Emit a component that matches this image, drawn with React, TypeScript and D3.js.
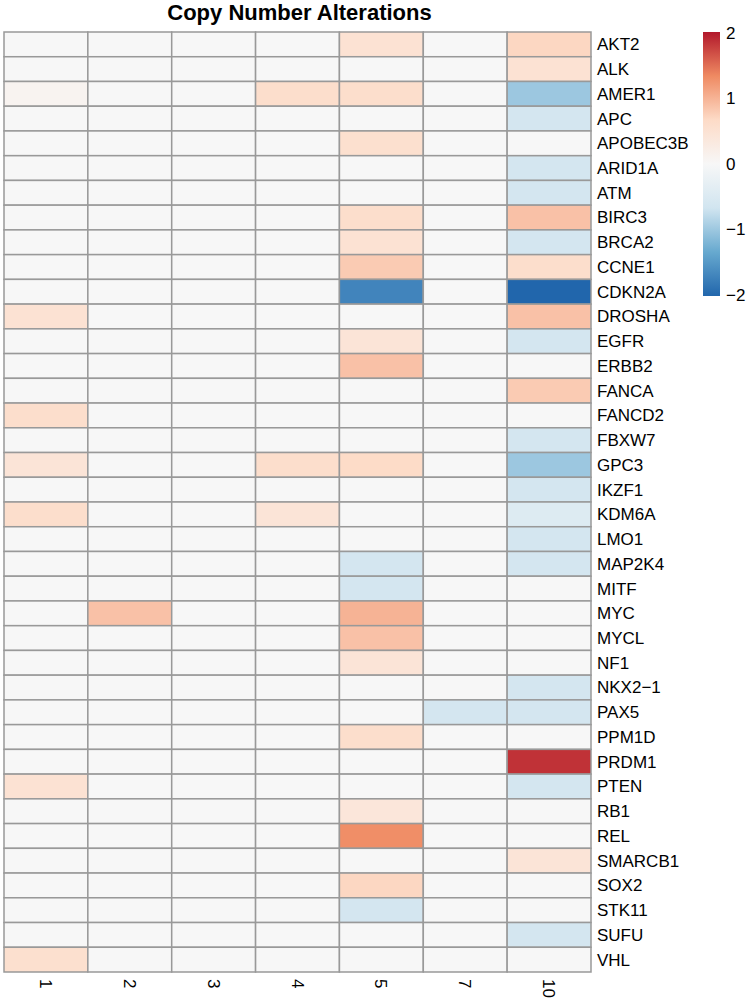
import * as d3 from "d3";
import React from "react";

// samples (columns) and genes (rows)
const samples = ["1", "2", "3", "4", "5", "7", "10"];
const genes = [
  "AKT2", "ALK", "AMER1", "APC", "APOBEC3B", "ARID1A", "ATM", "BIRC3", "BRCA2", "CCNE1",
  "CDKN2A", "DROSHA", "EGFR", "ERBB2", "FANCA", "FANCD2", "FBXW7", "GPC3", "IKZF1", "KDM6A",
  "LMO1", "MAP2K4", "MITF", "MYC", "MYCL", "NF1", "NKX2\u22121", "PAX5", "PPM1D", "PRDM1",
  "PTEN", "RB1", "REL", "SMARCB1", "SOX2", "STK11", "SUFU", "VHL",
];

// copy number values per sample, in gene order
const s1 = [0, 0, 0.1, 0, 0, 0, 0, 0, 0, 0, 0, 0.5, 0, 0, 0, 0.6, 0, 0.45, 0, 0.6, 0, 0, 0, 0, 0, 0, 0, 0, 0, 0, 0.5, 0, 0, 0, 0, 0, 0, 0.55];
const s2 = [0, 0, 0, 0, 0, 0, 0, 0, 0, 0, 0, 0, 0, 0, 0, 0, 0, 0, 0, 0, 0, 0, 0, 0.88, 0, 0, 0, 0, 0, 0, 0, 0, 0, 0, 0, 0, 0, 0];
const s3 = [0, 0, 0, 0, 0, 0, 0, 0, 0, 0, 0, 0, 0, 0, 0, 0, 0, 0, 0, 0, 0, 0, 0, 0, 0, 0, 0, 0, 0, 0, 0, 0, 0, 0, 0, 0, 0, 0];
const s4 = [0, 0, 0.6, 0, 0, 0, 0, 0, 0, 0, 0, 0, 0, 0, 0, 0, 0, 0.6, 0, 0.45, 0, 0, 0, 0, 0, 0, 0, 0, 0, 0, 0, 0, 0, 0, 0, 0, 0, 0];
const s5 = [0.5, 0, 0.6, 0, 0.55, 0, 0, 0.6, 0.5, 0.8, -1.7, 0, 0.45, 0.88, 0, 0, 0, 0.65, 0, 0, 0, -0.62, -0.62, 1.0, 0.88, 0.45, 0, 0, 0.6, 0, 0, 0.4, 1.3, 0, 0.7, -0.62, 0, 0];
const s7 = [0, 0, 0, 0, 0, 0, 0, 0, 0, 0, 0, 0, 0, 0, 0, 0, 0, 0, 0, 0, 0, 0, 0, 0, 0, 0, 0, -0.62, 0, 0, 0, 0, 0, 0, 0, 0, 0, 0];
const s10 = [0.7, 0.5, -1.0, -0.62, 0, -0.62, -0.62, 0.88, -0.62, 0.6, -2.0, 0.88, -0.62, 0, 0.8, 0, -0.62, -1.0, -0.62, -0.45, -0.62, -0.62, 0, 0, 0, 0, -0.62, -0.62, 0, 1.85, -0.62, 0, 0, 0.45, 0, 0, -0.62, 0];

const columns = [s1, s2, s3, s4, s5, s7, s10];
const legendTicks = [2, 1, 0, -1, -2];

const rdbu = ["#2166ac", "#67a9cf", "#d1e5f0", "#f7f7f7", "#fddbc7", "#ef8a62", "#b2182b"];
const font = "'Liberation Sans', Arial, sans-serif";

export default function App() {
  const width = 750;
  const height = 1000;
  const left = 4;
  const top = 32;
  const gridW = 587;
  const gridH = 940;

  const x = d3.scaleBand().domain(samples).range([left, left + gridW]);
  const y = d3.scaleBand().domain(genes).range([top, top + gridH]);
  const colour = d3
    .scaleLinear<string>()
    .domain(d3.range(7).map((i) => -2 + (i * 4) / 6))
    .range(rdbu)
    .clamp(true);

  // legend
  const legY = d3.scaleLinear().domain([2, -2]).range([33, 295]);

  const cells = [];
  columns.forEach((col, ci) => {
    col.forEach((v, gi) => {
      cells.push(
        <rect
          key={`${ci}-${gi}`}
          x={x(samples[ci])}
          y={y(genes[gi])}
          width={x.bandwidth()}
          height={y.bandwidth()}
          fill={colour(v)}
          stroke="#999999"
          strokeWidth={1.5}
        />
      );
    });
  });

  return (
    <svg
      width={width}
      height={height}
      style={{ position: "absolute", left: 0, top: 0, background: "#fff" }}
      fontFamily={font}
    >
      <defs>
        <linearGradient id="leg" x1="0" y1="1" x2="0" y2="0">
          {rdbu.map((c, i) => (
            <stop key={i} offset={`${(i / 6) * 100}%`} stopColor={c} />
          ))}
        </linearGradient>
      </defs>

      {/* Title */}
      <text
        x={left + gridW / 2 + 2}
        y={19.5}
        textAnchor="middle"
        fontWeight="bold"
        fontSize={22}
        fill="#000"
      >
        Copy Number Alterations
      </text>

      {cells}

      {/* Row labels */}
      {genes.map((g) => (
        <text
          key={g}
          x={left + gridW + 6}
          y={(y(g) ?? 0) + y.bandwidth() / 2}
          dy="0.35em"
          fontSize={17}
          fill="#000"
        >
          {g}
        </text>
      ))}

      {/* Column labels */}
      {samples.map((s) => (
        <text
          key={s}
          transform={`translate(${(x(s) ?? 0) + x.bandwidth() / 2}, ${top + gridH + 7}) rotate(90)`}
          dy="0.35em"
          fontSize={17}
          fill="#000"
        >
          {s}
        </text>
      ))}

      {/* Legend */}
      <rect x={703} y={legY(2) - 1} width={17} height={legY(-2) - legY(2) + 2} fill="url(#leg)" />
      {legendTicks.map((t) => (
        <text key={t} x={726} y={legY(t)} dy="0.35em" fontSize={17} fill="#000">
          {t < 0 ? `\u2212${Math.abs(t)}` : t}
        </text>
      ))}
    </svg>
  );
}
